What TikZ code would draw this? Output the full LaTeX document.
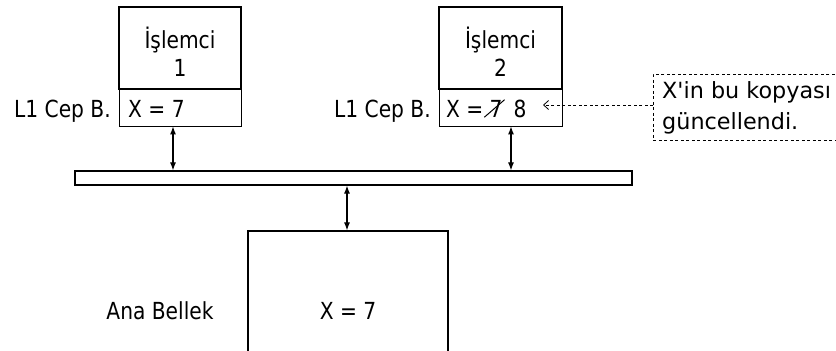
\documentclass[tikz,border=0pt]{standalone}
\usepackage{fontspec}
\setmainfont{DejaVu Sans}[FakeStretch=0.86]
\newfontfamily\notefont{DejaVu Sans}
\usetikzlibrary{arrows.meta,calc}
\begin{document}
\begin{tikzpicture}[x=1pt,y=-1pt,
  box/.style={draw, line width=1.2pt, inner sep=0pt},
  cache/.style={draw, line width=0.8pt, inner sep=0pt},
  txt/.style={font=\fontsize{23.5}{28}\selectfont, inner sep=0pt, anchor=base},
  notetxt/.style={font=\notefont\fontsize{22.3}{30}\selectfont, inner sep=0pt, anchor=base west},
  link/.style={line width=1.1pt, {Latex[length=8pt,width=6pt]}-{Latex[length=8pt,width=6pt]}},
  callout/.style={draw, line width=0.8pt, dash pattern=on 3pt off 2.5pt, -{Straight Barb[length=5pt,width=9pt]}}
]
\useasboundingbox (0,0) rectangle (836,351);
\clip (0,0) rectangle (836,351);
% processor 1
\node[box, minimum width=122pt, minimum height=82pt] (p1) at (180,48) {};
\node[txt] (p1a) at (180,48) {İşlemci};
\node[txt] (p1b) at (180,76) {1};
\node[cache, minimum width=122pt, minimum height=37pt] (c1) at (180,107.5) {};
\node[txt, anchor=base west] (c1t) at (128,117) {X = 7};
\node[txt, anchor=base east] (l1) at (111,117) {L1 Cep B.};
% processor 2
\node[box, minimum width=123pt, minimum height=82pt] (p2) at (500.5,48) {};
\node[txt] (p2a) at (500.5,48) {İşlemci};
\node[txt] (p2b) at (500.5,76) {2};
\node[cache, minimum width=123pt, minimum height=37pt] (c2) at (500.5,107.5) {};
\node[txt, anchor=base west] (c2t) at (446,117) {X =};
\node[txt] (seven) at (496,117) {7};
\node[txt] (eight) at (520,117) {8};
\draw[line width=1pt] ([xshift=-5pt]seven.south west) -- ([xshift=2pt]seven.north east);
\node[txt, anchor=base east] (l2) at (431,117) {L1 Cep B.};
% bus
\node[box, minimum width=557pt, minimum height=14pt] (bus) at (353.5,178) {};
% memory
\node[box, minimum width=200pt, minimum height=130pt] (mem) at (348,296) {};
\node[txt] (memt) at (348,319) {X = 7};
\node[txt] (ana) at (160,319) {Ana Bellek};
% links
\draw[link] ([xshift=-7pt]c1.south) -- ([xshift=-7pt]c1.south |- bus.north);
\draw[link] ([xshift=10.5pt]c2.south) -- ([xshift=10.5pt]c2.south |- bus.north);
\draw[link] ([xshift=-1pt]mem.north |- bus.south) -- ([xshift=-1pt]mem.north);
% callout
\node[draw, line width=0.8pt, dash pattern=on 3pt off 2.5pt, anchor=north west, minimum width=220pt, minimum height=66pt, inner sep=0pt] (note) at (653,74) {};
\node[notetxt] (note1) at (662,98) {X'in bu kopyası};
\node[notetxt] (note2) at (662,129) {güncellendi.};
\coordinate (tip) at (543,105);
\draw[callout] (note.west |- tip) -- (tip);
\end{tikzpicture}
\end{document}
